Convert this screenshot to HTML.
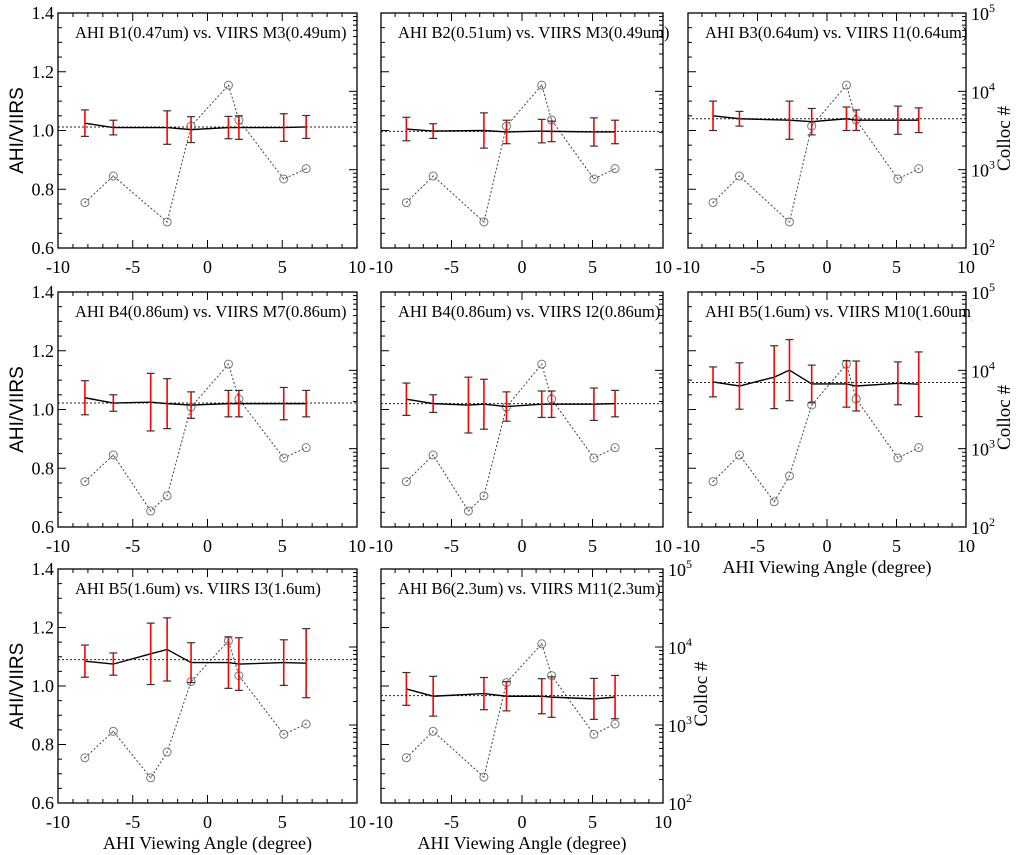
<!DOCTYPE html>
<html><head><meta charset="utf-8">
<style>
html,body{margin:0;padding:0;background:#fff;}
svg{display:block;}
text{font-family:"Liberation Serif",serif;fill:#000;}
</style></head>
<body>
<svg id="fig" width="1024" height="855" viewBox="0 0 1024 855" xmlns="http://www.w3.org/2000/svg"></svg>
<script>
// ---- data ----
const x8 = [-8.2, -6.3, -2.7, -1.1, 1.4, 2.1, 5.1, 6.6];
const x9 = [-8.2, -6.3, -3.8, -2.7, -1.1, 1.4, 2.1, 5.1, 6.6];
const xTicks = [-10, -5, 0, 5, 10];
const yTicks = [0.6, 0.8, 1.0, 1.2, 1.4];
const logTicks = [2, 3, 4, 5];

const titles = [
 "AHI B1(0.47um) vs. VIIRS M3(0.49um)",
 "AHI B2(0.51um) vs. VIIRS M3(0.49um)",
 "AHI B3(0.64um) vs. VIIRS I1(0.64um)",
 "AHI B4(0.86um) vs. VIIRS M7(0.86um)",
 "AHI B4(0.86um) vs. VIIRS I2(0.86um)",
 "AHI B5(1.6um) vs. VIIRS M10(1.60um)",
 "AHI B5(1.6um) vs. VIIRS I3(1.6um)",
 "AHI B6(2.3um) vs. VIIRS M11(2.3um)"
];
const refValues = [1.012, 0.997, 1.040, 1.022, 1.020, 1.092, 1.090, 0.967];

const p1Ratio = [1.025, 1.010, 1.010, 1.003, 1.010, 1.010, 1.010, 1.012];
const p1Err   = [0.045, 0.025, 0.057, 0.044, 0.038, 0.040, 0.047, 0.039];
const p2Ratio = [1.005, 0.998, 1.000, 0.995, 0.998, 0.997, 0.995, 0.995];
const p2Err   = [0.040, 0.025, 0.060, 0.040, 0.040, 0.035, 0.048, 0.040];
const p3Ratio = [1.050, 1.040, 1.035, 1.030, 1.040, 1.035, 1.035, 1.035];
const p3Err   = [0.050, 0.025, 0.065, 0.045, 0.040, 0.035, 0.048, 0.042];
const p4Ratio = [1.040, 1.022, 1.025, 1.020, 1.015, 1.020, 1.020, 1.020, 1.020];
const p4Err   = [0.058, 0.028, 0.098, 0.085, 0.045, 0.045, 0.045, 0.055, 0.045];
const p5Ratio = [1.035, 1.020, 1.015, 1.018, 1.010, 1.018, 1.018, 1.018, 1.020];
const p5Err   = [0.055, 0.030, 0.095, 0.085, 0.050, 0.045, 0.045, 0.055, 0.045];
const p6Ratio = [1.094, 1.080, 1.110, 1.134, 1.087, 1.087, 1.080, 1.089, 1.086];
const p6Err   = [0.051, 0.079, 0.107, 0.104, 0.064, 0.079, 0.085, 0.073, 0.110];
const p7Ratio = [1.085, 1.075, 1.110, 1.125, 1.080, 1.080, 1.075, 1.080, 1.078];
const p7Err   = [0.055, 0.038, 0.105, 0.108, 0.068, 0.088, 0.090, 0.078, 0.118];
const p8Ratio = [0.990, 0.965, 0.974, 0.965, 0.965, 0.962, 0.956, 0.962];
const p8Err   = [0.056, 0.068, 0.055, 0.050, 0.060, 0.069, 0.070, 0.074];

const c8 = [380, 830, 215, 3600, 12000, 4300, 760, 1030];
const c9a = [380, 830, 160, 250, 3400, 12000, 4300, 760, 1030];
const c9b = [380, 830, 210, 450, 3600, 12000, 4300, 760, 1030];
const c8b = [380, 830, 215, 3500, 11000, 4300, 760, 1030];

// ---- layout ----
const panels = [
 {L:58,R:357,T:13,B:248, xs:x8, r:p1Ratio, e:p1Err, c:c8, leftLab:true, rightLab:false, xTitle:false},
 {L:381,R:663,T:13,B:248, xs:x8, r:p2Ratio, e:p2Err, c:c8, leftLab:false, rightLab:false, xTitle:false},
 {L:688,R:966,T:13,B:248, xs:x8, r:p3Ratio, e:p3Err, c:c8, leftLab:false, rightLab:true, xTitle:false},
 {L:58,R:357,T:292,B:527, xs:x9, r:p4Ratio, e:p4Err, c:c9a, leftLab:true, rightLab:false, xTitle:false},
 {L:381,R:663,T:292,B:527, xs:x9, r:p5Ratio, e:p5Err, c:c9a, leftLab:false, rightLab:false, xTitle:false},
 {L:688,R:966,T:292,B:527, xs:x9, r:p6Ratio, e:p6Err, c:c9b, leftLab:false, rightLab:true, xTitle:true},
 {L:58,R:357,T:569,B:803, xs:x9, r:p7Ratio, e:p7Err, c:c9b, leftLab:true, rightLab:false, xTitle:true},
 {L:381,R:663,T:569,B:803, xs:x8, r:p8Ratio, e:p8Err, c:c8b, leftLab:false, rightLab:true, xTitle:true}
];

const NS = "http://www.w3.org/2000/svg";
const svg = document.getElementById('fig');
function mk(tag, attrs, parent) {
  const el = document.createElementNS(NS, tag);
  for (const k in attrs) el.setAttribute(k, attrs[k]);
  (parent || svg).appendChild(el);
  return el;
}

panels.forEach((p, i) => {
  const g = mk('g', {});
  
  
  const sx = v => p.L + (v + 10) / 20 * (p.R - p.L);
  const sy = v => p.B - (v - 0.6) / 0.8 * (p.B - p.T);
  const sl = c => p.B - (Math.log10(c) - 2) / 3 * (p.B - p.T);

  const cid = 'clip' + i;
  const cp = mk('clipPath', {id: cid}, g);
  mk('rect', {x: p.L, y: p.T, width: p.R - p.L + 6, height: p.B - p.T}, cp);

  const fr = mk('rect', {x: p.L, y: p.T, width: p.R - p.L, height: p.B - p.T, fill: 'none', stroke: '#000', 'stroke-width': 1.3}, g);
  
  

  for (let v = -10; v <= 10; v++) {
    const X = sx(v), len = (v % 5 === 0) ? 8 : 4;
    mk('line', {x1: X, y1: p.B, x2: X, y2: p.B - len, stroke: '#000', 'stroke-width': 1}, g);
    mk('line', {x1: X, y1: p.T, x2: X, y2: p.T + len, stroke: '#000', 'stroke-width': 1}, g);
  }
  xTicks.forEach(v => {
    const t = mk('text', {x: sx(v), y: p.B + 25, 'text-anchor': 'middle', 'font-size': 18}, g);
    t.textContent = String(v);
    
    
  });
  for (let k = 0; k <= 16; k++) {
    const v = 0.6 + k * 0.05, Y = sy(v), len = (k % 4 === 0) ? 8 : 4;
    mk('line', {x1: p.L, y1: Y, x2: p.L + len, y2: Y, stroke: '#000', 'stroke-width': 1}, g);
  }
  if (p.leftLab) {
    yTicks.forEach(v => {
      const t = mk('text', {x: p.L - 4, y: sy(v) + 6, 'text-anchor': 'end', 'font-size': 18}, g);
      t.textContent = v.toFixed(1);
      
      
    });
    const yt = mk('text', {x: 0, y: 0, 'text-anchor': 'middle', 'font-size': 19, transform: `translate(${p.L - 35},${(p.T + p.B) / 2}) rotate(-90)`}, g);
    yt.textContent = 'AHI/VIIRS';
    yt.style.fontFamily = '"Liberation Sans", sans-serif';
    
    
  }
  for (let d = 2; d < 5; d++) {
    for (let m = 1; m <= 9; m++) {
      const Y = sl(m * Math.pow(10, d)), len = m === 1 ? 8 : 4;
      mk('line', {x1: p.R, y1: Y, x2: p.R - len, y2: Y, stroke: '#000', 'stroke-width': 1}, g);
    }
  }
  if (p.rightLab) {
    logTicks.forEach(d => {
      const t = mk('text', {x: p.R + 5, y: sl(Math.pow(10, d)) + 7, 'font-size': 18}, g);
      t.textContent = '10';
      const s = mk('tspan', {dy: -8, 'font-size': 12}, t);
      s.textContent = String(d);
      
      
    });
    const rt = mk('text', {x: 0, y: 0, 'text-anchor': 'middle', 'font-size': 19, transform: `translate(${p.R + 44},${(p.T + p.B) / 2 + 8}) rotate(-90)`}, g);
    rt.textContent = 'Colloc #';
    
    
  }
  if (p.xTitle) {
    const xt = mk('text', {x: (p.L + p.R) / 2, y: p.B + 46, 'text-anchor': 'middle', 'font-size': 18}, g);
    xt.textContent = 'AHI Viewing Angle (degree)';
    
    
  }
  const tt = mk('text', {x: p.L + 17, y: p.T + 25, 'font-size': 16.5, 'clip-path': `url(#${cid})`}, g);
  tt.textContent = titles[i];
  
  

  const pg = mk('g', {'clip-path': `url(#${cid})`}, g);
  const ref = mk('line', {x1: p.L, x2: p.R, y1: sy(refValues[i]), y2: sy(refValues[i]), stroke: '#222', 'stroke-width': 1, 'stroke-dasharray': '2,2'}, pg);
  
  
  const cpts = p.xs.map((x, k) => sx(x) + ',' + sl(p.c[k])).join(' ');
  const cl = mk('polyline', {points: cpts, fill: 'none', stroke: '#444', 'stroke-width': 1, 'stroke-dasharray': '2,2'}, pg);
  
  
  p.xs.forEach((x, k) => {
    const c = mk('circle', {cx: sx(x), cy: sl(p.c[k]), r: 4, fill: 'none', stroke: '#777', 'stroke-width': 1}, pg);
    
    
    mk('circle', {cx: sx(x), cy: sl(p.c[k]), r: 0.8, fill: '#777'}, pg);
  });
  const rpts = p.xs.map((x, k) => sx(x) + ',' + sy(p.r[k])).join(' ');
  const rl = mk('polyline', {points: rpts, fill: 'none', stroke: '#000', 'stroke-width': 1.4}, pg);
  
  
  p.xs.forEach((x, k) => {
    const X = sx(x), y1 = sy(p.r[k] + p.e[k]), y2 = sy(p.r[k] - p.e[k]);
    const eb = mk('line', {x1: X, x2: X, y1: y1, y2: y2, stroke: '#ff0000', 'stroke-width': 1.6}, pg);
    
    
    mk('line', {x1: X - 4, x2: X + 4, y1: y1, y2: y1, stroke: '#333', 'stroke-width': 1.2}, pg);
    mk('line', {x1: X - 4, x2: X + 4, y1: y2, y2: y2, stroke: '#333', 'stroke-width': 1.2}, pg);
  });
});
</script>
</body></html>
